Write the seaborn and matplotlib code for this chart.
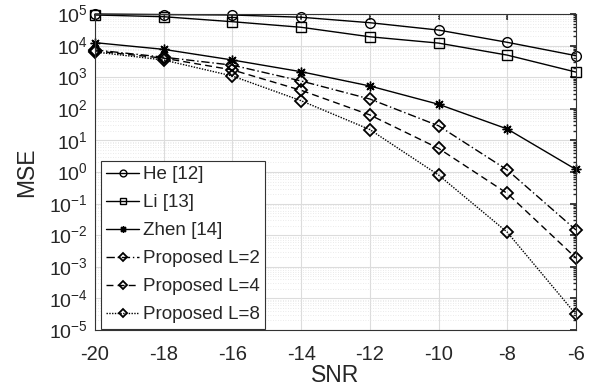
import matplotlib
matplotlib.use("Agg")
import matplotlib.pyplot as plt
import seaborn as sns
import pandas as pd
import numpy as np
from matplotlib.ticker import FixedLocator, NullFormatter

snr = [-20, -18, -16, -14, -12, -10, -8, -6]
he = [1.0e5, 9.6e4, 9.3e4, 7.9e4, 5.3e4, 3.1e4, 1.27e4, 4.8e3]
li = [9.3e4, 8.2e4, 5.7e4, 3.8e4, 1.9e4, 1.2e4, 5.0e3, 1.45e3]
zhen = [1.24e4, 7.6e3, 3.5e3, 1.49e3, 527, 139, 23, 1.2]
prop_l2 = [7.3e3, 4.3e3, 2.4e3, 759, 204, 29, 1.16, 0.0146]
prop_l4 = [6.8e3, 4.0e3, 1.7e3, 385, 64, 5.6, 0.21, 1.9e-3]
prop_l8 = [6.3e3, 3.5e3, 1.09e3, 180, 22, 0.80, 0.0124, 3.1e-5]
y_exponents = list(range(-5, 6))

labels = ["He [12]", "Li [13]", "Zhen [14]", "Proposed L=2", "Proposed L=4", "Proposed L=8"]
series = [he, li, zhen, prop_l2, prop_l4, prop_l8]
markers = ["o", "s", (8, 2, 0), "D", "D", "D"]
dashes = [None, None, None, (6, 2, 1, 2), (5, 3), (1, 1)]

sns.set_theme(style="white")
plt.rcParams['font.family'] = ['Liberation Sans', 'DejaVu Sans']
plt.rcParams['mathtext.fontset'] = 'custom'
plt.rcParams['mathtext.rm'] = 'Liberation Sans'

rows = []
for lab, vals in zip(labels, series):
    for s, v in zip(snr, vals):
        rows.append({"SNR": s, "MSE": v, "Method": lab})
df = pd.DataFrame(rows)

fig = plt.figure(figsize=(5.89, 3.91), dpi=100)
ax = fig.add_axes([95/589, 61/391, 481/589, 316/391])

for lab, mk, ds in zip(labels, markers, dashes):
    sub = df[df["Method"] == lab]
    sns.lineplot(data=sub, x="SNR", y="MSE", ax=ax, color="black", lw=1.0,
                 marker=mk, markersize=6 if mk == "D" else 7,
                 markerfacecolor="none",
                 markeredgecolor="black", markeredgewidth=1.3 if mk == "D" else 1.0,
                 label=lab)
    l = ax.get_lines()[-1]
    l.set_clip_on(False)
    if ds is not None:
        l.set_dashes(ds)

ax.set_yscale("log")
ax.set_xlim(-20, -6)
ax.set_ylim(1e-5, 1e5)
ax.set_xticks(snr)
ax.set_xticklabels([str(s) for s in snr])
ax.set_yticks([10.0 ** e for e in y_exponents])
ax.set_yticklabels([r"$10^{%d}$" % e for e in y_exponents])
minor = [m * 10.0 ** e for e in y_exponents[:-1] for m in range(2, 10)]
ax.yaxis.set_minor_locator(FixedLocator(minor))
ax.yaxis.set_minor_formatter(NullFormatter())

ax.grid(True, which="major", color="#dcdcdc", lw=0.8, ls="-")
ax.grid(True, which="minor", axis="y", color="#e4e4e4", lw=0.6, ls=(0, (1, 2)))
ax.set_axisbelow(True)

for sp in ax.spines.values():
    sp.set_color("#333333")
    sp.set_linewidth(0.8)
ax.tick_params(which="both", direction="in", top=True, right=True, colors="#262626")
ax.tick_params(axis="x", labelsize=14.5, pad=11)
ax.tick_params(axis="y", labelsize=14, pad=5)
ax.tick_params(which="major", length=4)
ax.tick_params(which="minor", length=2)

ax.set_xlabel("SNR", fontsize=16.5, color="#262626", labelpad=0)
ax.set_ylabel("MSE", fontsize=16.5, color="#262626", labelpad=8)

leg = ax.legend(loc="lower left", fontsize=13.5, frameon=True, fancybox=False,
                edgecolor="#333333", framealpha=1, borderaxespad=0.05,
                handlelength=1.75, handletextpad=0.2, labelspacing=0.58,
                borderpad=0.3, markerscale=0.7, bbox_to_anchor=(0.01, 0.0))
leg.get_frame().set_linewidth(0.8)

fig.savefig("out.png", dpi=100, facecolor="white")
